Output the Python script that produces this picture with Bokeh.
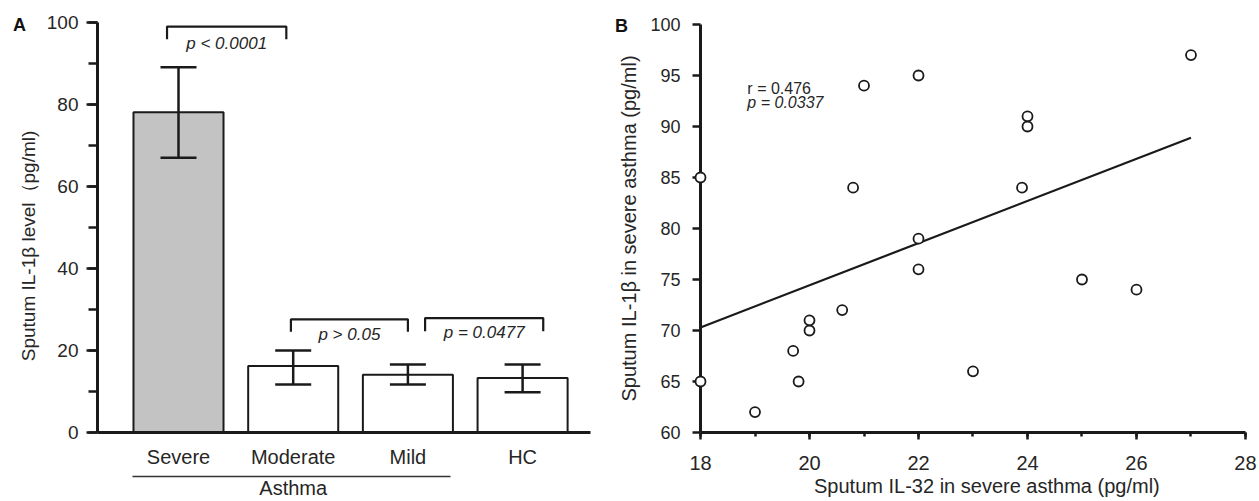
from bokeh.plotting import figure
from bokeh.layouts import row
from bokeh.models import (ColumnDataSource, Whisker, TeeHead, LinearAxis, FixedTicker,
                          SingleIntervalTicker, Range1d)
from bokeh.core.properties import value
from bokeh.embed import file_html
from bokeh.resources import INLINE

# ---------------- Panel A data ----------------
categories = ["Severe", "Moderate", "Mild", "HC"]
group_name = "Asthma"
il1b_mean = [78.1, 16.2, 14.1, 13.3]
il1b_upper = [89.1, 20.0, 16.6, 16.6]
il1b_lower = [67.0, 11.7, 11.7, 9.8]
bar_colors = ["#c3c3c3", "#ffffff", "#ffffff", "#ffffff"]
bracket_start = [0.90, 1.98, 3.15]
bracket_end = [1.94, 3.00, 4.18]
bracket_top = [99.0, 27.6, 27.9]
bracket_foot = [95.9, 24.6, 24.7]
bracket_text = ["p < 0.0001", "p > 0.05", "p = 0.0477"]
bracket_text_y = [95.0, 23.9, 24.5]

# ---------------- Panel B data ----------------
il32 = [18, 18, 19, 19.7, 19.8, 20, 20, 20.6, 20.8, 21, 22, 22, 22, 23, 23.9, 24, 24, 25, 26, 27]
il1b = [85, 65, 62, 68, 65, 71, 70, 72, 84, 94, 95, 79, 76, 66, 84, 91, 90, 75, 74, 97]
fit_x = [18, 27]
fit_y = [70.3, 88.9]
r_text = "r = 0.476"
p_text = "p = 0.0337"

FONT = "Liberation Sans"
TXT = "#262626"
INK = "#1a1a1a"


def style_axis(ax, tick_out, minor_out, label_size, standoff):
    ax.axis_line_width = 3
    ax.axis_line_color = INK
    ax.major_tick_out = tick_out
    ax.major_tick_in = 0
    ax.minor_tick_out = minor_out
    ax.minor_tick_in = 0
    ax.major_tick_line_width = 2.5
    ax.minor_tick_line_width = 2.5
    ax.major_tick_line_color = INK if tick_out else None
    ax.minor_tick_line_color = INK if minor_out else None
    ax.major_label_text_font = FONT
    ax.major_label_text_font_size = label_size
    ax.major_label_text_color = TXT
    ax.major_label_standoff = standoff
    ax.axis_label_text_font = FONT
    ax.axis_label_text_font_style = "normal"
    ax.axis_label_text_color = TXT


# ================= Panel A =================
# frame covers the whole canvas; axes are pinned with fixed_location
pa = figure(width=600, height=501, output_backend="svg", toolbar_location=None,
            x_range=Range1d(-0.5519, 4.6792), y_range=Range1d(-16.829, 105.366),
            min_border=0, x_axis_location=None, y_axis_location=None)
pa.grid.visible = False
pa.outline_line_color = None

xpos = list(range(1, len(categories) + 1))
src = ColumnDataSource(dict(x=xpos, top=il1b_mean, upper=il1b_upper, lower=il1b_lower, color=bar_colors))
pa.vbar(x="x", top="top", bottom=0, width=0.785, source=src,
        fill_color="color", line_color=INK, line_width=2)
wh = Whisker(base="x", upper="upper", lower="lower", source=src, line_width=2.5, line_color=INK,
             upper_head=TeeHead(size=36, line_width=2.5, line_color=INK),
             lower_head=TeeHead(size=36, line_width=2.5, line_color=INK), level="annotation")
pa.add_layout(wh)

bxs = [[s, s, e, e] for s, e in zip(bracket_start, bracket_end)]
bys = [[f, t, t, f] for t, f in zip(bracket_top, bracket_foot)]
pa.multi_line(xs=bxs, ys=bys, line_color=INK, line_width=2.2)
pa.text(x=[(s + e) / 2 for s, e in zip(bracket_start, bracket_end)], y=bracket_text_y, text=bracket_text,
        text_font=value(FONT), text_font_style="italic", text_font_size="17px",
        text_align="center", text_baseline="middle", text_color=TXT)

ya = LinearAxis(ticker=SingleIntervalTicker(interval=20, num_minor_ticks=2),
                fixed_location=0.2938, bounds=(0, 100))
style_axis(ya, 11, 9, "19px", 8)
ya.axis_label = "Sputum IL-1\u03b2 level\uff08pg/ml)" + "\u00a0" * 7
ya.axis_label_text_font_size = "19px"
ya.axis_label_standoff = 5
pa.add_layout(ya, "left")

xa = LinearAxis(ticker=FixedTicker(ticks=xpos), fixed_location=0, bounds=(0.2938, 4.592),
                major_label_overrides={i: c for i, c in zip(xpos, categories)})
style_axis(xa, 0, 0, "20px", 13)
pa.add_layout(xa, "below")

members = xpos[:3]
ax2 = LinearAxis(ticker=FixedTicker(ticks=[sum(members) / len(members)]),
                 major_label_overrides={2: group_name}, fixed_location=-10.73,
                 bounds=(members[0] - 0.4, members[-1] + 0.37))
style_axis(ax2, 0, 0, "20px", 1)
ax2.axis_line_width = 1.5
ax2.axis_line_color = "#333333"
pa.add_layout(ax2, "below")

pa.text(x=[-0.386], y=[99.27], text=["A"], text_font=value(FONT), text_font_style="bold",
        text_font_size="18px", text_align="center", text_baseline="middle", text_color="#111111")

# ================= Panel B =================
pb = figure(width=659, height=501, output_backend="svg", toolbar_location=None,
            x_range=Range1d(16.165, 28.257), y_range=Range1d(53.235, 102.353),
            min_border=0, x_axis_location=None, y_axis_location=None)
pb.grid.visible = False
pb.outline_line_color = None

pb.line(fit_x, fit_y, line_width=2.2, line_color=INK)
pb.scatter(il32, il1b, size=10, fill_color="white", line_color=INK, line_width=1.8, level="overlay")

yb = LinearAxis(ticker=SingleIntervalTicker(interval=5, num_minor_ticks=0),
                fixed_location=18, bounds=(60, 100))
style_axis(yb, 8, 0, "18px", 12)
yb.axis_label = "Sputum IL-1\u03b2 in severe asthma (pg/ml)"
yb.axis_label_text_font_size = "20px"
yb.axis_label_standoff = 7
pb.add_layout(yb, "left")

xb = LinearAxis(ticker=SingleIntervalTicker(interval=2, num_minor_ticks=2),
                fixed_location=60, bounds=(18, 28))
style_axis(xb, 7, 4, "20px", 17)
xb.axis_label = "\u00a0" * 5 + "Sputum IL-32 in severe asthma (pg/ml)"
xb.axis_label_text_font_size = "20px"
xb.axis_label_standoff = 1
pb.add_layout(xb, "below")

pb.text(x=[18.86], y=[93.73], text=[r_text], text_font=value(FONT), text_font_size="16px",
        text_align="left", text_baseline="middle", text_color=TXT)
pb.text(x=[18.86], y=[92.35], text=[p_text], text_font=value(FONT), text_font_size="16px",
        text_font_style="italic", text_align="left", text_baseline="middle", text_color=TXT)
pb.text(x=[16.55], y=[99.9], text=["B"], text_font=value(FONT), text_font_style="bold",
        text_font_size="18px", text_align="center", text_baseline="middle", text_color="#111111")

layout = row(pa, pb)
open("out.html", "w").write(file_html(layout, INLINE))
